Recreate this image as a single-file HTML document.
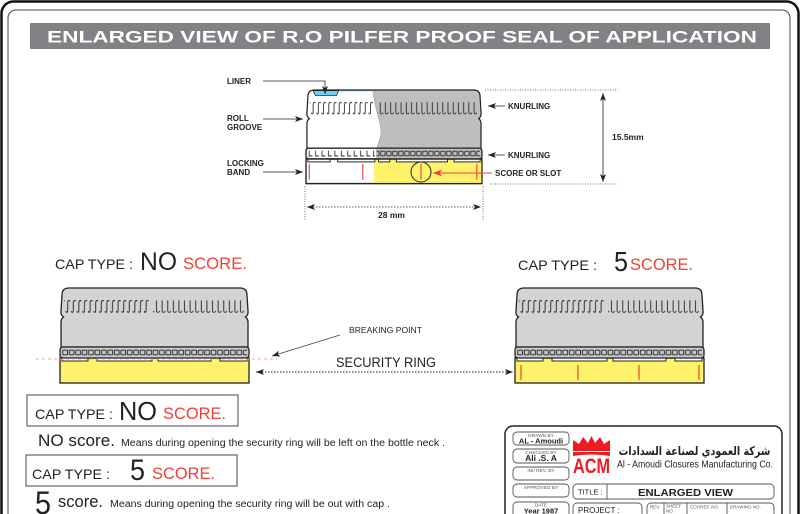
<!DOCTYPE html>
<html><head><meta charset="utf-8"><style>
html,body{margin:0;padding:0;background:#fff;}
svg{display:block;}
text{font-family:"Liberation Sans",Arial,sans-serif;}
</style></head><body>
<svg width="800" height="514" viewBox="0 0 800 514" xmlns="http://www.w3.org/2000/svg">
<defs>
 <pattern id="ps" x="0" y="12" width="5.6" height="14" patternUnits="userSpaceOnUse">
  <path d="M4.4,1.4 Q4.2,0.1 3,0.5 Q2.1,1 2.1,3 L2.1,10.2 Q2.1,12.6 0.9,12.3 Q0.2,12 0.5,11" fill="none" stroke="#222" stroke-width="0.9"/>
 </pattern>
 <pattern id="pl" x="0" y="12" width="5.6" height="14" patternUnits="userSpaceOnUse">
  <path d="M1.3,0.4 L1.3,10.4 Q1.3,12.4 2.8,12.3 Q4.3,12.2 4.2,10.8" fill="none" stroke="#222" stroke-width="0.9"/>
 </pattern>
 <pattern id="sq" x="2" y="61" width="6.45" height="20" patternUnits="userSpaceOnUse">
  <rect x="0.8" y="1.2" width="4.7" height="4.6" rx="0.6" fill="none" stroke="#222" stroke-width="0.9"/>
 </pattern>
 <pattern id="lL" x="2" y="61" width="6.9" height="20" patternUnits="userSpaceOnUse">
  <path d="M1.4,0.5 L1.4,6 L5,6" fill="none" stroke="#222" stroke-width="0.9"/>
 </pattern>
 <marker id="ah" viewBox="0 0 8 6" refX="8" refY="3" markerWidth="8" markerHeight="6" markerUnits="userSpaceOnUse" orient="auto-start-reverse">
  <path d="M0,0 L8,3 L0,6 L2,3 Z" fill="#222"/>
 </marker>
 <marker id="ahr" viewBox="0 0 8 6" refX="8" refY="3" markerWidth="9" markerHeight="7" markerUnits="userSpaceOnUse" orient="auto">
  <path d="M0,0 L8,3 L0,6 L2,3 Z" fill="#ef4136"/>
 </marker>
 <clipPath id="topbody">
  <path d="M2,7 Q2,0 9,0 L180,0 Q187,0 187,7 L188,23 Q188.5,27 185.5,29 Q188,31 188,34 L188,59 L1,59 L1,34 Q1,31 3.5,29 Q0.5,27 1,23 Z"/>
 </clipPath>
 <g id="capB">
  <path d="M2,7 Q2,0 9,0 L180,0 Q187,0 187,7 L188,23 Q188.5,27 185.5,29 Q188,31 188,34 L188,59 L1,59 L1,34 Q1,31 3.5,29 Q0.5,27 1,23 Z" fill="#d1d3d4" stroke="#222" stroke-width="1.3"/>
  <rect x="4" y="12" width="85" height="13" fill="url(#ps)"/>
  <rect x="93" y="12" width="91" height="13" fill="url(#pl)"/>
  <rect x="0" y="70" width="189" height="25" fill="#fff36b" stroke="#222" stroke-width="1.3"/>
  <rect x="2" y="69" width="26" height="4" fill="#fff" stroke="#222" stroke-width="1"/>
  <rect x="37" y="69" width="55" height="4" fill="#fff" stroke="#222" stroke-width="1"/>
  <rect x="98" y="69" width="53" height="4" fill="#fff" stroke="#222" stroke-width="1"/>
  <rect x="160" y="69" width="27" height="4" fill="#fff" stroke="#222" stroke-width="1"/>
  <rect x="0" y="59" width="189" height="11" rx="3" fill="#c7c8ca" stroke="#222" stroke-width="1.3"/>
  <rect x="2" y="60" width="185" height="9" fill="url(#sq)"/>
 </g>
</defs>

<!-- frame -->
<rect x="1.5" y="1.5" width="797" height="530" rx="12" fill="none" stroke="#111" stroke-width="2.5"/>
<rect x="8" y="10" width="782" height="520" rx="8" fill="none" stroke="#444" stroke-width="1"/>

<!-- banner -->
<rect x="30" y="23" width="740" height="26" fill="#808285"/>
<text x="47" y="42.5" font-size="16.5" font-weight="bold" fill="#fff" textLength="710" lengthAdjust="spacingAndGlyphs">ENLARGED VIEW OF R.O PILFER PROOF SEAL OF APPLICATION</text>

<!-- top cap -->
<g transform="translate(306,90) scale(0.931,0.985)">
 <path d="M2,7 Q2,0 9,0 L180,0 Q187,0 187,7 L188,23 Q188.5,27 185.5,29 Q188,31 188,34 L188,59 L1,59 L1,34 Q1,31 3.5,29 Q0.5,27 1,23 Z" fill="#fff"/>
 <g clip-path="url(#topbody)">
  <path d="M72,-1 C74,25 83,35 80,48 Q77,56 76,60 L190,60 L190,-1 Z" fill="#bcbec0"/>
  <path d="M72,-1 C74,25 83,35 80,48 Q77,56 76,60" fill="none" stroke="#999" stroke-width="0.6"/>
  <line x1="34" y1="0.8" x2="72" y2="0.8" stroke="#6dcff6" stroke-width="1.2"/>
 </g>
 <path d="M2,7 Q2,0 9,0 L180,0 Q187,0 187,7 L188,23 Q188.5,27 185.5,29 Q188,31 188,34 L188,59 L1,59 L1,34 Q1,31 3.5,29 Q0.5,27 1,23 Z" fill="none" stroke="#222" stroke-width="1.3"/>
 <path d="M7.5,0.6 L35,0.6 L33,5.5 L10,5.5 Z" fill="#6dcff6" stroke="#222" stroke-width="0.8"/>
 <rect x="4" y="12" width="68" height="13" fill="url(#ps)"/>
 <rect x="77" y="12" width="107" height="13" fill="url(#pl)"/>
 <rect x="0" y="70" width="189" height="25" fill="#fff" stroke="#222" stroke-width="1.3"/>
 <path d="M75,70.6 Q71,82 74,94.4 L188.4,94.4 L188.4,70.6 Z" fill="#fff36b"/>
 <rect x="0" y="70" width="189" height="25" fill="none" stroke="#222" stroke-width="1.3"/>
 <rect x="2" y="69" width="24" height="4" fill="#fff" stroke="#222" stroke-width="1"/>
 <rect x="34" y="69" width="40" height="4" fill="#fff" stroke="#222" stroke-width="1"/>
 <rect x="78" y="69" width="12" height="4" fill="#fff" stroke="#222" stroke-width="1"/>
 <rect x="97" y="69" width="55" height="4" fill="#fff" stroke="#222" stroke-width="1"/>
 <rect x="159" y="69" width="28" height="4" fill="#fff" stroke="#222" stroke-width="1"/>
 <rect x="0" y="59" width="189" height="11" rx="3" fill="#fff" stroke="#222" stroke-width="1.3"/>
 <rect x="75" y="59.7" width="113" height="9.6" fill="#bcbec0"/>
 <rect x="0" y="59" width="189" height="11" rx="3" fill="none" stroke="#222" stroke-width="1.3"/>
 <rect x="2" y="60" width="72" height="9" fill="url(#lL)"/>
 <rect x="76" y="60" width="111" height="9" fill="url(#sq)"/>
 <g stroke="#ef4136" stroke-width="1.2">
  <line x1="3.5" y1="75" x2="3.5" y2="91"/>
  <line x1="61" y1="75" x2="61" y2="91"/>
  <line x1="123.5" y1="75" x2="123.5" y2="91"/>
  <line x1="183.5" y1="75" x2="183.5" y2="91"/>
 </g>
</g>
<circle cx="421" cy="172" r="10" fill="none" stroke="#222" stroke-width="1"/>

<!-- top cap labels -->
<g font-size="8" font-weight="bold" fill="#222">
 <text x="227" y="84">LINER</text>
 <text x="227" y="121">ROLL</text>
 <text x="227" y="130">GROOVE</text>
 <text x="227" y="166">LOCKING</text>
 <text x="227" y="175">BAND</text>
 <text x="508" y="109">KNURLING</text>
 <text x="508" y="158">KNURLING</text>
 <text x="495" y="176">SCORE OR SLOT</text>
 <text x="612" y="140" font-size="8.5">15.5mm</text>
 <text x="378" y="218" font-size="8.5">28 mm</text>
</g>
<g stroke="#222" stroke-width="0.8" fill="none">
 <polyline points="263,81 325,81 325,94" marker-end="url(#ah)"/>
 <line x1="263" y1="119" x2="303" y2="119" marker-end="url(#ah)"/>
 <line x1="263" y1="172" x2="303" y2="172" marker-end="url(#ah)"/>
 <line x1="505" y1="106" x2="488" y2="106" marker-end="url(#ah)"/>
 <line x1="505" y1="155" x2="488" y2="155" marker-end="url(#ah)"/>
 <line x1="603" y1="93" x2="603" y2="182" marker-start="url(#ah)" marker-end="url(#ah)"/>
 <line x1="307" y1="207" x2="481" y2="207" marker-start="url(#ah)" marker-end="url(#ah)" stroke-dasharray="1.5,1.5"/>
</g>
<line x1="492" y1="173" x2="433" y2="173" stroke="#ef4136" stroke-width="1" marker-end="url(#ahr)"/>
<g stroke="#444" stroke-width="0.8" stroke-dasharray="1,1.5" fill="none">
 <line x1="485" y1="90" x2="618" y2="90"/>
 <line x1="490" y1="184" x2="618" y2="184"/>
 <line x1="305" y1="186" x2="305" y2="220"/>
 <line x1="483" y1="186" x2="483" y2="220"/>
</g>

<!-- headings over caps -->
<text x="55" y="269" font-size="14" fill="#222" textLength="78" lengthAdjust="spacingAndGlyphs">CAP TYPE :</text>
<text x="140" y="270" font-size="25" fill="#222" textLength="37" lengthAdjust="spacingAndGlyphs">NO</text>
<text x="183" y="269" font-size="16.5" fill="#ef4136" textLength="64" lengthAdjust="spacingAndGlyphs">SCORE.</text>
<text x="518" y="270" font-size="14" fill="#222" textLength="79" lengthAdjust="spacingAndGlyphs">CAP TYPE :</text>
<text x="614" y="271" font-size="28" fill="#222" textLength="14" lengthAdjust="spacingAndGlyphs">5</text>
<text x="630" y="270" font-size="16.5" fill="#ef4136" textLength="63" lengthAdjust="spacingAndGlyphs">SCORE.</text>

<!-- bottom caps -->
<use href="#capB" x="60" y="288"/>
<use href="#capB" x="515" y="288"/>
<g stroke="#ef4136" stroke-width="1.2">
 <line x1="521" y1="365" x2="521" y2="380"/>
 <line x1="578" y1="365" x2="578" y2="380"/>
 <line x1="639" y1="365" x2="639" y2="380"/>
 <line x1="699" y1="365" x2="699" y2="380"/>
</g>
<line x1="36" y1="359" x2="277" y2="359" stroke="#f4a6a0" stroke-width="1" stroke-dasharray="3,3"/>

<!-- breaking point / security ring -->
<text x="349" y="333" font-size="8" fill="#222" textLength="73" lengthAdjust="spacingAndGlyphs">BREAKING POINT</text>
<line x1="340" y1="335" x2="272" y2="356" stroke="#444" stroke-width="0.8" marker-end="url(#ah)"/>
<text x="336" y="367" font-size="13.5" fill="#222" textLength="100" lengthAdjust="spacingAndGlyphs">SECURITY RING</text>
<line x1="256" y1="372" x2="513" y2="372" stroke="#222" stroke-width="0.9" stroke-dasharray="1.5,1.5" marker-start="url(#ah)" marker-end="url(#ah)"/>

<!-- description boxes -->
<rect x="27" y="395" width="211" height="31" fill="none" stroke="#666" stroke-width="1.2"/>
<text x="35" y="419" font-size="14" fill="#222" textLength="78" lengthAdjust="spacingAndGlyphs">CAP TYPE :</text>
<text x="119" y="420" font-size="26" fill="#222" textLength="38" lengthAdjust="spacingAndGlyphs">NO</text>
<text x="163" y="419" font-size="16.5" fill="#ef4136" textLength="63" lengthAdjust="spacingAndGlyphs">SCORE.</text>
<text x="38" y="446" font-size="17" fill="#222" textLength="77" lengthAdjust="spacingAndGlyphs">NO score.</text>
<text x="121" y="446" font-size="10" fill="#222" textLength="324" lengthAdjust="spacingAndGlyphs">Means during opening the security ring will be left on the bottle neck .</text>

<rect x="26" y="455" width="211" height="31" fill="none" stroke="#666" stroke-width="1.2"/>
<text x="32" y="479" font-size="14" fill="#222" textLength="78" lengthAdjust="spacingAndGlyphs">CAP TYPE :</text>
<text x="130" y="480" font-size="30" fill="#222" textLength="15" lengthAdjust="spacingAndGlyphs">5</text>
<text x="152" y="479" font-size="16.5" fill="#ef4136" textLength="63" lengthAdjust="spacingAndGlyphs">SCORE.</text>
<text x="35" y="514" font-size="32" fill="#222" textLength="16" lengthAdjust="spacingAndGlyphs">5</text>
<text x="58" y="507" font-size="17" fill="#222" textLength="45" lengthAdjust="spacingAndGlyphs">score.</text>
<text x="110" y="507" font-size="10" fill="#222" textLength="280" lengthAdjust="spacingAndGlyphs">Means during opening the security ring will be out with cap .</text>

<!-- title block -->
<rect x="505" y="426" width="277" height="110" rx="8" fill="none" stroke="#222" stroke-width="1.5"/>
<g fill="none" stroke="#555" stroke-width="0.9">
 <rect x="513" y="432" width="56" height="13" rx="4"/>
 <rect x="513" y="449" width="56" height="14" rx="4"/>
 <rect x="513" y="467" width="56" height="13" rx="4"/>
 <rect x="513" y="484" width="56" height="13" rx="4"/>
 <rect x="513" y="502" width="56" height="20" rx="4"/>
 <rect x="573" y="484" width="201" height="15" rx="4"/>
 <line x1="607" y1="484" x2="607" y2="499"/>
 <rect x="573" y="503" width="69" height="20" rx="4"/>
 <rect x="647" y="503" width="127" height="20" rx="4"/>
 <line x1="664" y1="503" x2="664" y2="514"/>
 <line x1="687" y1="503" x2="687" y2="514"/>
 <line x1="727" y1="503" x2="727" y2="514"/>
</g>
<g fill="#555" font-size="4.8" text-anchor="middle">
 <text x="541" y="437">DRAWN BY</text>
 <text x="541" y="454">CHECKED BY</text>
 <text x="541" y="472">INI/ REV. BY</text>
 <text x="541" y="489">APPROVED BY</text>
 <text x="541" y="506.5">DATE</text>
</g>
<g fill="#222" font-weight="bold" text-anchor="middle">
 <text x="541" y="443.5" font-size="7.5">AL - Amoudi</text>
 <text x="541" y="461" font-size="8.5">Ali .S. A</text>
 <text x="541" y="513.5" font-size="7.5">Year 1987</text>
</g>
<polygon points="573,451 573,440 579,444 583,437 588,443 591.5,436 595,443 600,437 604,444 610,440 610,451" fill="#ed1c24"/>
<path d="M573,452 L610,452 L610,456 Q591.5,453 573,456 Z" fill="#ed1c24"/>
<text x="573" y="473" font-size="21" font-weight="bold" fill="#ed1c24" textLength="37" lengthAdjust="spacingAndGlyphs">ACM</text>
<g transform="translate(694.5,455) scale(0.8,1)">
 <text x="0" y="0" font-size="12" font-weight="bold" fill="#222" text-anchor="middle" style="font-family:'DejaVu Sans',sans-serif">شركة العمودي لصناعة السدادات</text>
</g>
<text x="617" y="467.5" font-size="10.5" fill="#222" textLength="156" lengthAdjust="spacingAndGlyphs">Al - Amoudi Closures Manufacturing Co.</text>
<text x="578" y="494.5" font-size="7.5" fill="#222">TITLE :</text>
<text x="638" y="496" font-size="10.5" font-weight="bold" fill="#222" textLength="95" lengthAdjust="spacingAndGlyphs">ENLARGED VIEW</text>
<text x="578" y="513" font-size="8" fill="#222">PROJECT :</text>
<g fill="#555" font-size="4.5">
 <text x="650" y="508.5">REV.</text>
 <text x="666" y="507.5">SHEET</text>
 <text x="666" y="512.5">NO.</text>
 <text x="690" y="508.5">COOREF. NO.</text>
 <text x="730" y="508.5">DRAWING NO.</text>
</g>
</svg>
</body></html>
